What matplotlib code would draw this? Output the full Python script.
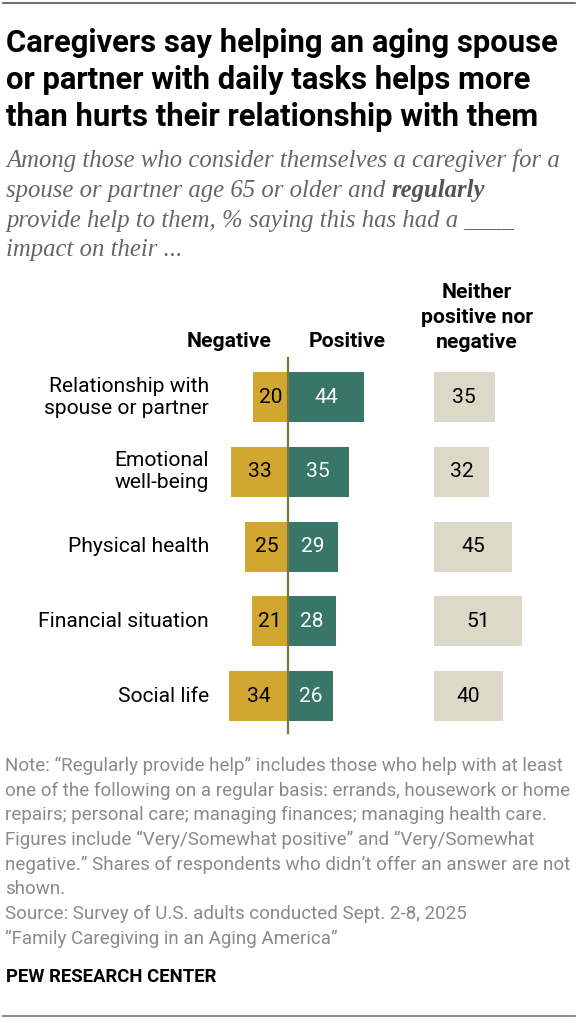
import matplotlib
matplotlib.use("Agg")
import matplotlib.pyplot as plt

# data
categories = ["Relationship with\nspouse or partner", "Emotional\nwell-being",
              "Physical health", "Financial situation", "Social life"]
negative = [20, 33, 25, 21, 34]
positive = [44, 35, 29, 28, 26]
neither = [35, 32, 45, 51, 40]

title_lines = ["Caregivers say helping an aging spouse",
               "or partner with daily tasks helps more",
               "than hurts their relationship with them"]
note_lines = ["Note: \u201cRegularly provide help\u201d includes those who help with at least",
              "one of the following on a regular basis: errands, housework or home",
              "repairs; personal care; managing finances; managing health care.",
              "Figures include \u201cVery/Somewhat positive\u201d and \u201cVery/Somewhat",
              "negative.\u201d Shares of respondents who didn\u2019t offer an answer are not",
              "shown.",
              "Source: Survey of U.S. adults conducted Sept. 2-8, 2025",
              "\u201cFamily Caregiving in an Aging America\u201d"]

GOLD = "#D1A732"
TEAL = "#38766A"
BEIGE = "#DCD9C8"
ZERO = "#78773C"
SANS = "Roboto"
SERIF = "Liberation Serif"

W, H = 577, 1023
fig = plt.figure(figsize=(W / 100, H / 100), dpi=100)
r = fig.canvas.get_renderer()


def fx(x):
    return x / W


def fy(y):
    return 1 - y / H


def fit(txt, width, **kw):
    t = fig.text(0, 0, txt, fontsize=10, **kw)
    w = t.get_window_extent(r).width
    t.remove()
    return 10 * width / w


# chart axes span the whole figure; scale is 1.73 px per point, zero at x=288
ax = fig.add_axes([0, 0, 1, 1])
ax.axis("off")
px = 1.73
ax.set_xlim(-288 / px, (W - 288) / px)
step = 74.75
ax.set_ylim((H - 397) / step, -397 / step)
neither_start = (434 - 288) / px
bh = 50 / step

rows = list(range(len(categories)))
ax.barh(rows, [-v for v in negative], height=bh, color=GOLD)
ax.barh(rows, positive, height=bh, color=TEAL)
ax.barh(rows, neither, left=neither_start, height=bh, color=BEIGE)
ax.plot([0, 0], [(358 - 397) / step, (733 - 397) / step], color=ZERO, lw=1.6)

lab_fs = fit("Financial situation", 170, family=SANS)
for i in rows:
    ax.text(-negative[i] / 2, i, str(negative[i]), ha="center", va="center",
            fontsize=lab_fs, family=SANS, color="black")
    ax.text(positive[i] / 2, i, str(positive[i]), ha="center", va="center",
            fontsize=lab_fs, family=SANS, color="white")
    ax.text(neither_start + neither[i] / 2, i, str(neither[i]), ha="center", va="center",
            fontsize=lab_fs, family=SANS, color="black")
    ax.text((209 - 288) / px, i, categories[i], ha="right", va="center",
            fontsize=lab_fs, family=SANS, color="black", linespacing=1.2)

hdr_fs = fit("Negative", 85, family=SANS, weight="bold")
fig.text(fx(229.5), fy(342), "Negative", ha="center", va="center",
         fontsize=hdr_fs, family=SANS, weight="bold")
fig.text(fx(347), fy(342), "Positive", ha="center", va="center",
         fontsize=hdr_fs, family=SANS, weight="bold")
for j, s in enumerate(["Neither", "positive nor", "negative"]):
    fig.text(fx(477), fy(292 + 25.5 * j), s, ha="center", va="center",
             fontsize=hdr_fs, family=SANS, weight="bold")

# title
t_fs = fit(title_lines[0], 554, family=SANS, weight="bold")
for j, s in enumerate(title_lines):
    fig.text(fx(6), fy(52 + 37 * j), s, ha="left", va="baseline",
             fontsize=t_fs, family=SANS, weight="bold", color="black")

# subtitle
sub_kw = dict(family=SERIF, style="italic", color="#666666")
s_fs = fit("Among those who consider themselves a caregiver for a", 554, **sub_kw)
sub_y = [167, 197, 227, 256]
fig.text(fx(6), fy(sub_y[0]), "Among those who consider themselves a caregiver for a",
         va="baseline", fontsize=s_fs, **sub_kw)
t2 = fig.text(fx(6), fy(sub_y[1]), "spouse or partner age 65 or older and ",
              va="baseline", fontsize=s_fs, **sub_kw)
x2 = t2.get_window_extent(r).x1
fig.text(x2 / W, fy(sub_y[1]), "regularly", va="baseline", fontsize=s_fs,
         family=SERIF, style="italic", weight="bold", color="#555555")
fig.text(fx(6), fy(sub_y[2]), "provide help to them, % saying this has had a ____",
         va="baseline", fontsize=s_fs, **sub_kw)
fig.text(fx(6), fy(sub_y[3]), "impact on their ...", va="baseline", fontsize=s_fs, **sub_kw)

# notes
n_fs = fit(note_lines[1], 566, family=SANS)
for j, s in enumerate(note_lines):
    fig.text(fx(5), fy(771 + 24.7 * j), s, va="baseline", fontsize=n_fs,
             family=SANS, color="#8a8a8a")

p_fs = fit("PEW RESEARCH CENTER", 210, family=SANS, weight="bold")
fig.text(fx(6), fy(982), "PEW RESEARCH CENTER", va="baseline", fontsize=p_fs,
         family=SANS, weight="bold", color="black")

# rules
fig.add_artist(plt.Line2D([fx(3), fx(575)], [fy(3), fy(3)], color="#555555", lw=1.2))
fig.add_artist(plt.Line2D([fx(3), fx(575)], [fy(1016), fy(1016)], color="#777777", lw=1.2))

fig.savefig("out.png", dpi=100)
